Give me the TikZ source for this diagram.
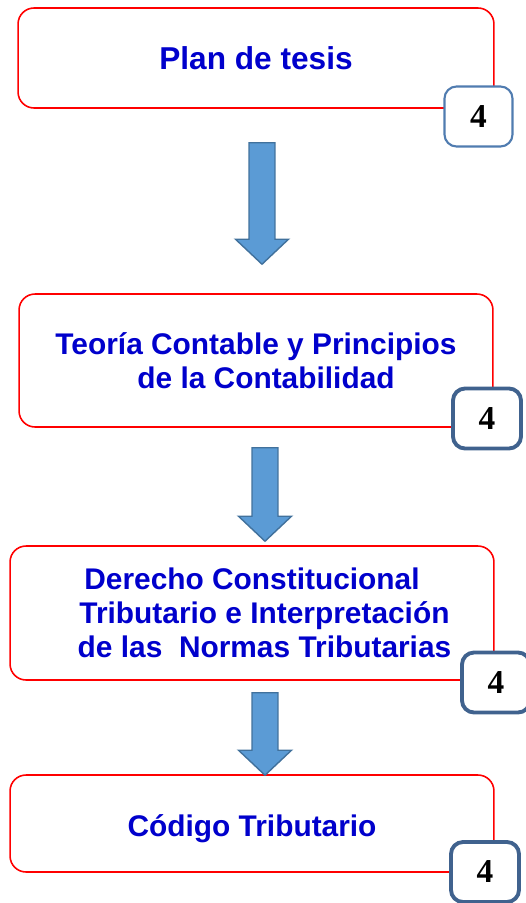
\documentclass[tikz,border=0pt]{standalone}
\usepackage{fontspec}
\setmainfont{Liberation Sans}
\newfontfamily\numfont{Liberation Serif}
\usetikzlibrary{calc}

\definecolor{titleblue}{RGB}{0,0,204}
\definecolor{arrowfill}{RGB}{91,155,213}
\definecolor{arrowline}{RGB}{65,113,156}
\definecolor{badgethin}{RGB}{80,124,176}
\definecolor{badgethick}{RGB}{64,98,142}

\tikzset{
	topic/.style={draw=red, line width=0.9pt, rounded corners=0.32cm, fill=white,
		text=titleblue, align=center, font=\fontsize{17pt}{19.5pt}\selectfont\bfseries},
	badge/.style={draw=badgethick, line width=2.2pt, rounded corners=0.24cm, fill=white,
		minimum width=1.36cm, minimum height=1.2cm, inner sep=0pt,
		font=\numfont\fontsize{19pt}{19pt}\selectfont\bfseries},
	blockarrow/.style={draw=arrowline, fill=arrowfill, line width=0.8pt, line join=miter}
}

\newcommand\blockarrow[2]{%
	\draw[blockarrow] let \p1=(#1), \p2=(#2) in
		(\x1-0.26cm,\y1) -- (\x1+0.26cm,\y1) -- (\x1+0.26cm,\y2+0.5cm) -- (\x1+0.53cm,\y2+0.5cm)
		-- (\x1,\y2) -- (\x1-0.53cm,\y2+0.5cm) -- (\x1-0.26cm,\y2+0.5cm) -- cycle;}

\begin{document}
\begin{tikzpicture}[x=0.02cm, y=-0.02cm]

	\useasboundingbox (0,0) rectangle (526,903);

	\node[topic, minimum width=9.52cm, minimum height=2cm, font=\fontsize{18pt}{20pt}\selectfont\bfseries] (plan) at (256,58) {Plan de tesis};
	\node[topic, minimum width=9.48cm, minimum height=2.66cm] (teoria) at (256,360.5)
		{Teoría Contable y Principios\\\hspace*{0.4cm}de la Contabilidad};
	\node[topic, minimum width=9.68cm, minimum height=2.68cm] (derecho) at (252,613)
		{Derecho Constitucional\\\hspace*{0.5cm}Tributario e Interpretación\\\hspace*{0.5cm}de las\ \ Normas Tributarias};
	\node[topic, minimum width=9.68cm, minimum height=1.94cm, text height=0.66cm] (codigo) at (252,823.5) {Código Tributario};

	\node[badge, draw=badgethin, line width=1.2pt] (n1) at (478.5,116.5) {4};
	\node[badge] (n2) at (487,418.5) {4};
	\node[badge] (n3) at (496,682.5) {4};
	\node[badge] (n4) at (485,872) {4};

	\coordinate (a1s) at ($(plan.south)+(6,34)$);
	\coordinate (a1e) at ($(teoria.north)+(6,-29)$);
	\coordinate (a2s) at ($(teoria.south)+(9,20)$);
	\coordinate (a2e) at ($(derecho.north)+(13,-4)$);
	\coordinate (a3s) at ($(derecho.south)+(13,12)$);
	\coordinate (a3e) at ($(codigo.north)+(13,1)$);

	\foreach \i in {1,2,3} {
		\blockarrow{a\i s}{a\i e}
	}

\end{tikzpicture}
\end{document}
